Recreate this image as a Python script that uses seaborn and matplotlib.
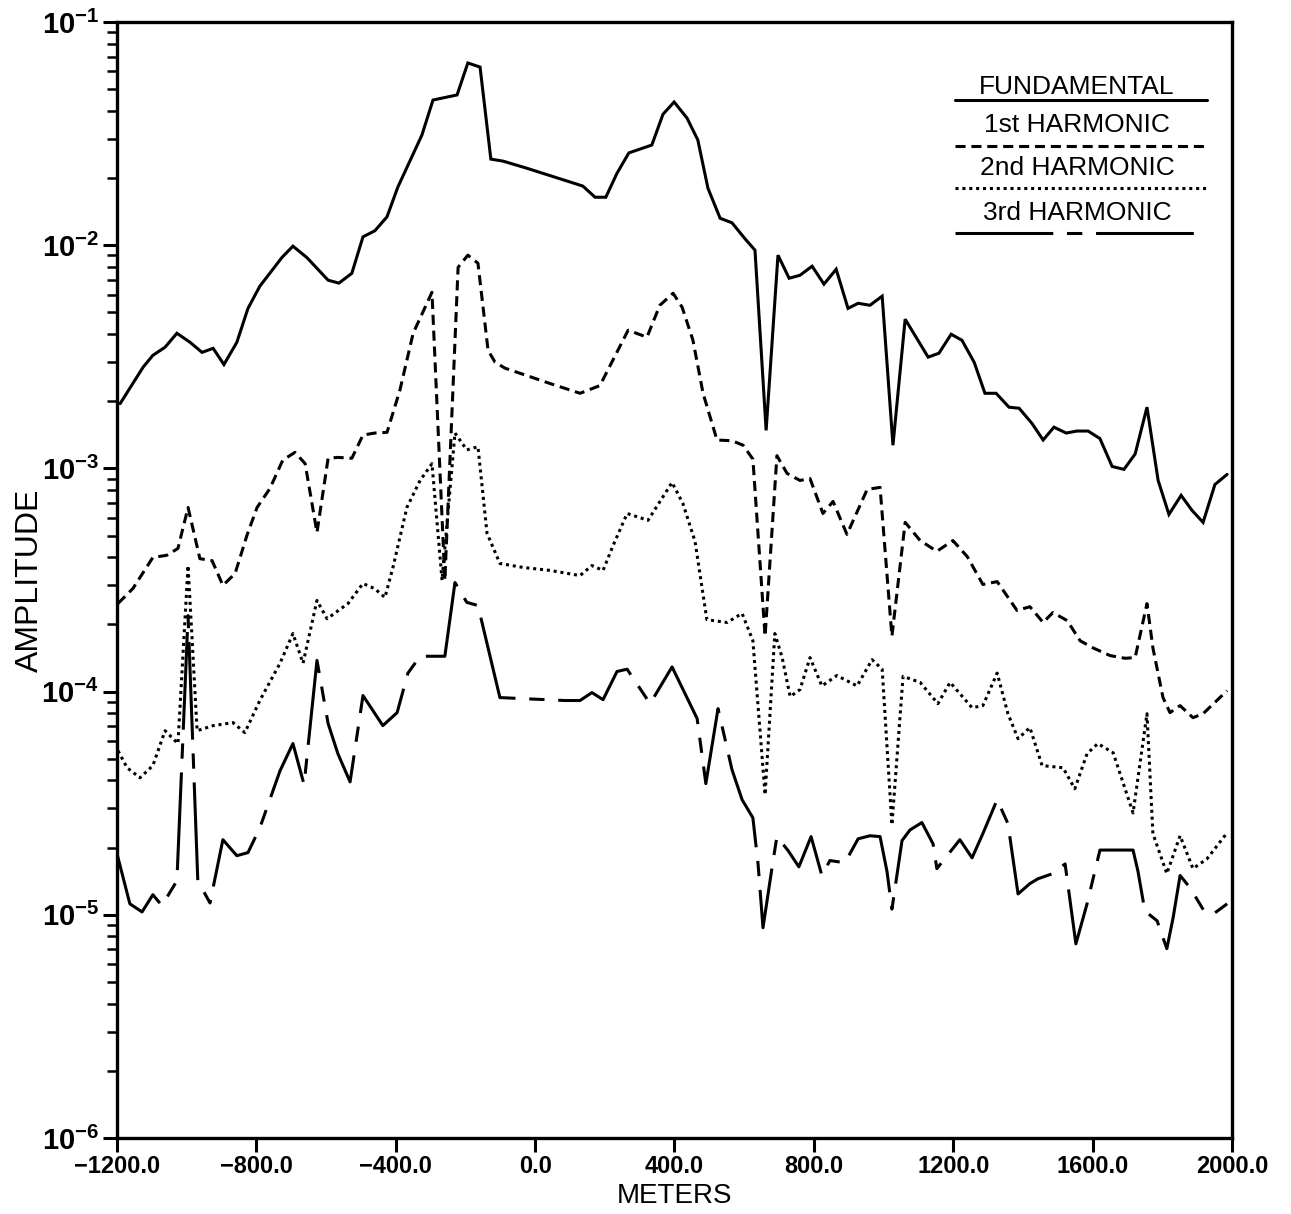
import numpy as np
import pandas as pd
import matplotlib
matplotlib.use("Agg")
import matplotlib.pyplot as plt
from matplotlib.ticker import FixedLocator, FuncFormatter, LogLocator, NullLocator, NullFormatter
import seaborn as sns

# ---------------- data ----------------
FUND_X = [-1191, -1125, -1097, -1062, -1028, -990, -956, -924, -893, -856,
          -824, -790, -726, -695, -655, -594, -563, -526, -494, -460,
          -425, -394, -325, -293, -224, -193, -158, -127, -92, -23,
          137, 172, 203, 235, 269, 335, 367, 399, 436, 467,
          496, 531, 565, 602, 631, 663, 697, 729, 760, 795,
          829, 864, 898, 927, 961, 996, 1027, 1062, 1128, 1159,
          1194, 1225, 1260, 1291, 1323, 1360, 1389, 1426, 1458, 1489,
          1524, 1555, 1587, 1621, 1656, 1690, 1722, 1756, 1788, 1819,
          1854, 1885, 1917, 1951, 1986]
FUND_Y = [1.95e-3, 2.84e-3, 3.21e-3, 3.49e-3, 4.03e-3, 3.67e-3, 3.31e-3, 3.45e-3, 2.92e-3, 3.67e-3,
          5.21e-3, 6.55e-3, 8.83e-3, 9.9e-3, 8.8e-3, 6.97e-3, 6.76e-3, 7.48e-3, 1.09e-2, 1.16e-2,
          1.34e-2, 1.82e-2, 3.11e-2, 4.47e-2, 4.71e-2, 6.55e-2, 6.28e-2, 2.43e-2, 2.38e-2, 2.21e-2,
          1.84e-2, 1.64e-2, 1.64e-2, 2.10e-2, 2.59e-2, 2.81e-2, 3.86e-2, 4.38e-2, 3.71e-2, 2.96e-2,
          1.80e-2, 1.32e-2, 1.26e-2, 1.07e-2, 9.5e-3, 1.48e-3, 9.02e-3, 7.11e-3, 7.33e-3, 8.05e-3,
          6.69e-3, 7.80e-3, 5.21e-3, 5.49e-3, 5.38e-3, 5.91e-3, 1.27e-3, 4.66e-3, 3.15e-3, 3.28e-3,
          3.99e-3, 3.75e-3, 2.99e-3, 2.17e-3, 2.17e-3, 1.88e-3, 1.86e-3, 1.59e-3, 1.34e-3, 1.53e-3,
          1.44e-3, 1.47e-3, 1.47e-3, 1.36e-3, 1.02e-3, 9.9e-4, 1.16e-3, 1.88e-3, 8.83e-4, 6.22e-4,
          7.57e-4, 6.49e-4, 5.73e-4, 8.47e-4, 9.4e-4]

H1_X = [-1197, -1154, -1097, -1057, -1025, -996, -962, -927, -896, -861,
        -827, -798, -761, -724, -689, -660, -626, -594, -566, -526,
        -494, -460, -425, -388, -350, -296, -259, -221, -193, -164,
        -135, -115, -86, 43, 129, 186, 267, 321, 358, 396,
        422, 453, 482, 522, 565, 597, 625, 660, 694, 723,
        760, 789, 826, 855, 895, 953, 990, 1024, 1062, 1105,
        1153, 1199, 1240, 1285, 1326, 1383, 1420, 1458, 1486, 1527,
        1564, 1601, 1650, 1693, 1722, 1756, 1773, 1802, 1822, 1851,
        1888, 1917, 1986]
H1_Y = [2.48e-4, 2.90e-4, 3.99e-4, 4.08e-4, 4.38e-4, 6.68e-4, 3.94e-4, 3.86e-4, 2.99e-4, 3.38e-4,
        5.01e-4, 6.68e-4, 8.13e-4, 1.09e-3, 1.18e-3, 1.05e-3, 5.16e-4, 1.11e-3, 1.12e-3, 1.11e-3,
        1.41e-3, 1.44e-3, 1.45e-3, 2.24e-3, 4.03e-3, 6.15e-3, 3.15e-4, 7.96e-3, 9.02e-3, 8.30e-3,
        3.38e-3, 2.99e-3, 2.81e-3, 2.40e-3, 2.17e-3, 2.35e-3, 4.16e-3, 3.87e-3, 5.38e-3, 6.09e-3,
        5.27e-3, 3.75e-3, 2.17e-3, 1.34e-3, 1.33e-3, 1.27e-3, 1.10e-3, 1.77e-4, 1.14e-3, 9.5e-4,
        8.83e-4, 9.0e-4, 6.28e-4, 7.11e-4, 5.06e-4, 8.05e-4, 8.22e-4, 1.77e-4, 5.73e-4, 4.75e-4,
        4.25e-4, 4.75e-4, 4.03e-4, 3.02e-4, 3.11e-4, 2.31e-4, 2.40e-4, 2.04e-4, 2.26e-4, 2.08e-4,
        1.69e-4, 1.57e-4, 1.45e-4, 1.41e-4, 1.42e-4, 2.48e-4, 1.57e-4, 9.4e-5, 8.05e-5, 8.65e-5,
        7.64e-5, 7.96e-5, 1.01e-4]

H2_X = [-1197, -1171, -1134, -1097, -1062, -1042, -1025, -996, -970, -924,
        -867, -833, -790, -732, -695, -666, -626, -597, -537, -494,
        -460, -431, -408, -368, -330, -296, -267, -230, -196, -164,
        -138, -101, -35, 43, 129, 163, 195, 224, 264, 324,
        393, 424, 459, 479, 493, 551, 594, 625, 660, 688,
        709, 732, 760, 789, 823, 866, 924, 967, 996, 1024,
        1056, 1105, 1156, 1191, 1254, 1285, 1326, 1357, 1386, 1420,
        1455, 1515, 1549, 1584, 1615, 1659, 1716, 1756, 1773, 1813,
        1851, 1888, 1928, 1986]
H2_Y = [5.43e-5, 4.56e-5, 4.11e-5, 4.66e-5, 6.68e-5, 6.22e-5, 5.85e-5, 3.67e-4, 6.68e-5, 7.04e-5,
        7.26e-5, 6.55e-5, 9.12e-5, 1.34e-4, 1.82e-4, 1.34e-4, 2.56e-4, 2.12e-4, 2.48e-4, 3.05e-4,
        2.89e-4, 2.64e-4, 3.60e-4, 6.68e-4, 8.83e-4, 1.05e-3, 3.15e-4, 1.44e-3, 1.21e-3, 1.25e-3,
        5.12e-4, 3.75e-4, 3.60e-4, 3.49e-4, 3.31e-4, 3.67e-4, 3.49e-4, 4.52e-4, 6.28e-4, 5.85e-4,
        8.65e-4, 6.97e-4, 4.71e-4, 2.92e-4, 2.10e-4, 2.04e-4, 2.24e-4, 1.69e-4, 3.45e-5, 1.82e-4,
        1.42e-4, 9.5e-5, 1.02e-4, 1.42e-4, 1.06e-4, 1.18e-4, 1.06e-4, 1.39e-4, 1.26e-4, 2.53e-5,
        1.17e-4, 1.10e-4, 8.83e-5, 1.10e-4, 8.47e-5, 8.65e-5, 1.21e-4, 7.96e-5, 6.15e-5, 6.90e-5,
        4.66e-5, 4.56e-5, 3.67e-5, 5.27e-5, 5.85e-5, 5.32e-5, 2.86e-5, 7.96e-5, 2.31e-5, 1.53e-5,
        2.26e-5, 1.61e-5, 1.78e-5, 2.33e-5]

H3_X = [-1200, -1163, -1128, -1097, -1071, -1028, -996, -968, -933, -896,
        -856, -824, -790, -732, -695, -663, -626, -594, -566, -531,
        -494, -480, -437, -396, -365, -330, -259, -230, -196, -164,
        -101, 86, 129, 163, 195, 235, 264, 330, 393, 465,
        490, 525, 565, 594, 625, 640, 654, 683, 694, 726,
        757, 792, 823, 846, 889, 927, 961, 990, 1010, 1024,
        1053, 1076, 1110, 1142, 1153, 1219, 1254, 1285, 1326, 1357,
        1386, 1420, 1443, 1486, 1521, 1552, 1584, 1621, 1716, 1730,
        1750, 1785, 1813, 1831, 1851, 1880, 1923, 1951, 1986]
H3_Y = [1.88e-5, 1.12e-5, 1.03e-5, 1.23e-5, 1.10e-5, 1.42e-5, 2.19e-4, 1.42e-5, 1.13e-5, 2.17e-5,
        1.84e-5, 1.90e-5, 2.45e-5, 4.42e-5, 5.85e-5, 3.83e-5, 1.38e-4, 7.19e-5, 5.27e-5, 3.94e-5,
        9.6e-5, 8.9e-5, 7.04e-5, 8.05e-5, 1.21e-4, 1.44e-4, 1.44e-4, 3.08e-4, 2.51e-4, 2.43e-4,
        9.4e-5, 9.12e-5, 9.12e-5, 9.9e-5, 9.2e-5, 1.23e-4, 1.26e-4, 8.83e-5, 1.29e-4, 7.57e-5,
        3.87e-5, 8.39e-5, 4.47e-5, 3.28e-5, 2.72e-5, 1.68e-5, 8.75e-6, 1.75e-5, 2.24e-5, 1.94e-5,
        1.64e-5, 2.24e-5, 1.50e-5, 1.75e-5, 1.71e-5, 2.19e-5, 2.26e-5, 2.24e-5, 1.56e-5, 1.06e-5,
        2.15e-5, 2.40e-5, 2.59e-5, 2.08e-5, 1.61e-5, 2.17e-5, 1.80e-5, 2.31e-5, 3.28e-5, 2.56e-5,
        1.24e-5, 1.38e-5, 1.45e-5, 1.53e-5, 1.69e-5, 7.41e-6, 1.12e-5, 1.95e-5, 1.95e-5, 1.57e-5,
        1.04e-5, 9.4e-6, 7.05e-6, 9.7e-6, 1.50e-5, 1.32e-5, 1.02e-5, 1.02e-5, 1.12e-5]

SERIES_NAMES = ["FUNDAMENTAL", "1st HARMONIC", "2nd HARMONIC", "3rd HARMONIC"]
X_TICKS = [-1200, -800, -400, 0, 400, 800, 1200, 1600, 2000]
Y_TICKS = [1e-6, 1e-5, 1e-4, 1e-3, 1e-2, 1e-1]
X_LABEL = "METERS"
Y_LABEL = "AMPLITUDE"

# ---------------- style ----------------
sns.set_style("ticks")
plt.rcParams["font.family"] = ["Liberation Sans", "DejaVu Sans"]
plt.rcParams["text.color"] = "black"
plt.rcParams["axes.labelcolor"] = "black"
plt.rcParams["xtick.color"] = "black"
plt.rcParams["ytick.color"] = "black"
plt.rcParams["mathtext.fontset"] = "custom"
plt.rcParams["mathtext.rm"] = "Liberation Sans:bold"
plt.rcParams["mathtext.bf"] = "Liberation Sans:bold"
plt.rcParams["mathtext.default"] = "rm"

LW = 2.2
STYLES = [
    "-",
    (0, (3.3, 1.9)),
    (0, (1.0, 1.25)),
    (0, (32.0, 4.5, 5.0, 4.5)),
]

fig = plt.figure(figsize=(12.91, 12.14), dpi=100)
ax = fig.add_axes([0.0906, 0.0626, 0.8637, 0.9193])

all_x = [FUND_X, H1_X, H2_X, H3_X]
all_y = [FUND_Y, H1_Y, H2_Y, H3_Y]
for xs, ys, ls in zip(all_x, all_y, STYLES):
    df = pd.DataFrame({"x": xs, "y": ys})
    sns.lineplot(data=df, x="x", y="y", ax=ax, color="black", lw=LW,
                 linestyle=ls, estimator=None, sort=False,
                 dash_capstyle="butt", solid_joinstyle="miter")

ax.set_yscale("log")
ax.set_xlim(-1200, 2000)
ax.set_ylim(1e-6, 1e-1)

ax.xaxis.set_major_locator(FixedLocator(X_TICKS))
ax.xaxis.set_minor_locator(NullLocator())
ax.xaxis.set_major_formatter(FuncFormatter(lambda v, p: f"{v:.1f}".replace("-", "\u2212")))
ax.yaxis.set_major_locator(FixedLocator(Y_TICKS))
ax.yaxis.set_minor_locator(LogLocator(base=10, subs=np.arange(2, 10)))
ax.yaxis.set_minor_formatter(NullFormatter())
ax.yaxis.set_major_formatter(FuncFormatter(lambda v, p: r"$10^{%d}$" % int(round(np.log10(v)))))

ax.tick_params(which="major", direction="out", length=10, width=2.2, color="black")
ax.tick_params(axis="x", which="major", labelsize=17, pad=2)
ax.tick_params(axis="y", which="major", labelsize=21, pad=3)
ax.tick_params(which="minor", direction="out", length=7, width=1.8, color="black")
for lab in ax.get_xticklabels():
    lab.set_fontweight("bold")
for s in ax.spines.values():
    s.set_visible(True)
    s.set_linewidth(2.4)
    s.set_color("black")

ax.set_xlabel(X_LABEL, fontsize=20, labelpad=4, color="black")
ax.set_ylabel(Y_LABEL, fontsize=23, color="black", va="center", ha="center")
ax.yaxis.set_label_coords(-0.078, 0.5)

# ---------------- legend (drawn as labelled sample lines) ----------------
leg_text_y = [0.942, 0.908, 0.869, 0.829]
leg_line_y = [0.930, 0.889, 0.851, 0.811]
for name, ty, lyy, ls in zip(SERIES_NAMES, leg_text_y, leg_line_y, STYLES):
    ax.text(0.861, ty, name, transform=ax.transAxes, ha="center", va="center",
            fontsize=19, color="black")
    ax.plot([0.752, 0.978], [lyy, lyy], transform=ax.transAxes, color="black",
            lw=LW, linestyle=ls, dash_capstyle="butt")

fig.savefig("out.png", dpi=100, facecolor="white")
